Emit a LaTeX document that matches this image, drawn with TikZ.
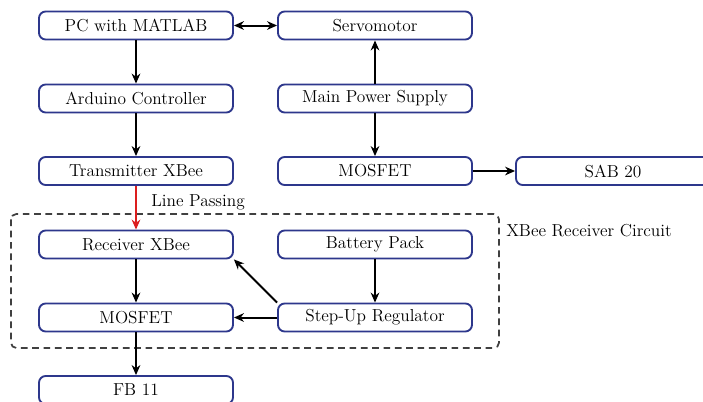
\documentclass[tikz,border=0pt]{standalone}
\usetikzlibrary{arrows.meta}
\definecolor{boxblue}{RGB}{45,55,140}
\definecolor{linered}{RGB}{220,30,30}
\begin{document}
\begin{tikzpicture}[x=0.75pt,y=-0.75pt,
  blk/.style={draw=boxblue,line width=1.4pt,rounded corners=5pt,fill=white,
    minimum width=145.5pt,minimum height=21pt,inner sep=0pt,
    font=\fontsize{13}{15}\selectfont},
  arr/.style={-{Stealth[length=7.5pt,width=6.5pt]},line width=1.5pt,black},
  lbl/.style={font=\fontsize{13}{15}\selectfont,inner sep=0pt,anchor=west}]
\useasboundingbox (0,0) rectangle (703,401);
\clip (0,0) rectangle (703,401);
% dashed group
\draw[line width=1.3pt,dash pattern=on 5pt off 3.5pt,rounded corners=4pt,black!75] (11,214) rectangle (499,348);
% nodes
\node[blk] (pc) at (136,25.5) {PC with MATLAB};
\node[blk] (ard) at (136,98.5) {Arduino Controller};
\node[blk] (tx) at (136,171) {Transmitter XBee};
\node[blk] (rx) at (136,244.5) {Receiver XBee};
\node[blk] (mos2) at (136,317.5) {MOSFET};
\node[blk] (fb) at (136,390) {FB 11};
\node[blk] (servo) at (375,25.5) {Servomotor};
\node[blk] (mps) at (375,98.5) {Main Power Supply};
\node[blk] (mos1) at (375,171) {MOSFET};
\node[blk] (bat) at (375,244.5) {Battery Pack};
\node[blk] (step) at (375,317.5) {Step-Up Regulator};
\node[blk] (sab) at (613,171) {SAB 20};
\node[lbl] (lp) at (151,202) {Line Passing};
\node[lbl] (xrc) at (506,231) {XBee Receiver Circuit};
% connectors
\draw[arr,{Stealth[length=7.5pt,width=6.5pt]}-{Stealth[length=7.5pt,width=6.5pt]}] (pc) -- (servo);
\draw[arr] (pc) -- (ard);
\draw[arr] (ard) -- (tx);
\draw[arr,draw=linered,fill=linered] (tx) -- (rx);
\draw[arr] (rx) -- (mos2);
\draw[arr] (mos2) -- (fb);
\draw[arr] (mps) -- (servo);
\draw[arr] (mps) -- (mos1);
\draw[arr] (mos1) -- (sab);
\draw[arr] (bat) -- (step);
\draw[arr] (step) -- (mos2);
\draw[arr] (step.north west) -- (rx.south east);
\end{tikzpicture}
\end{document}
